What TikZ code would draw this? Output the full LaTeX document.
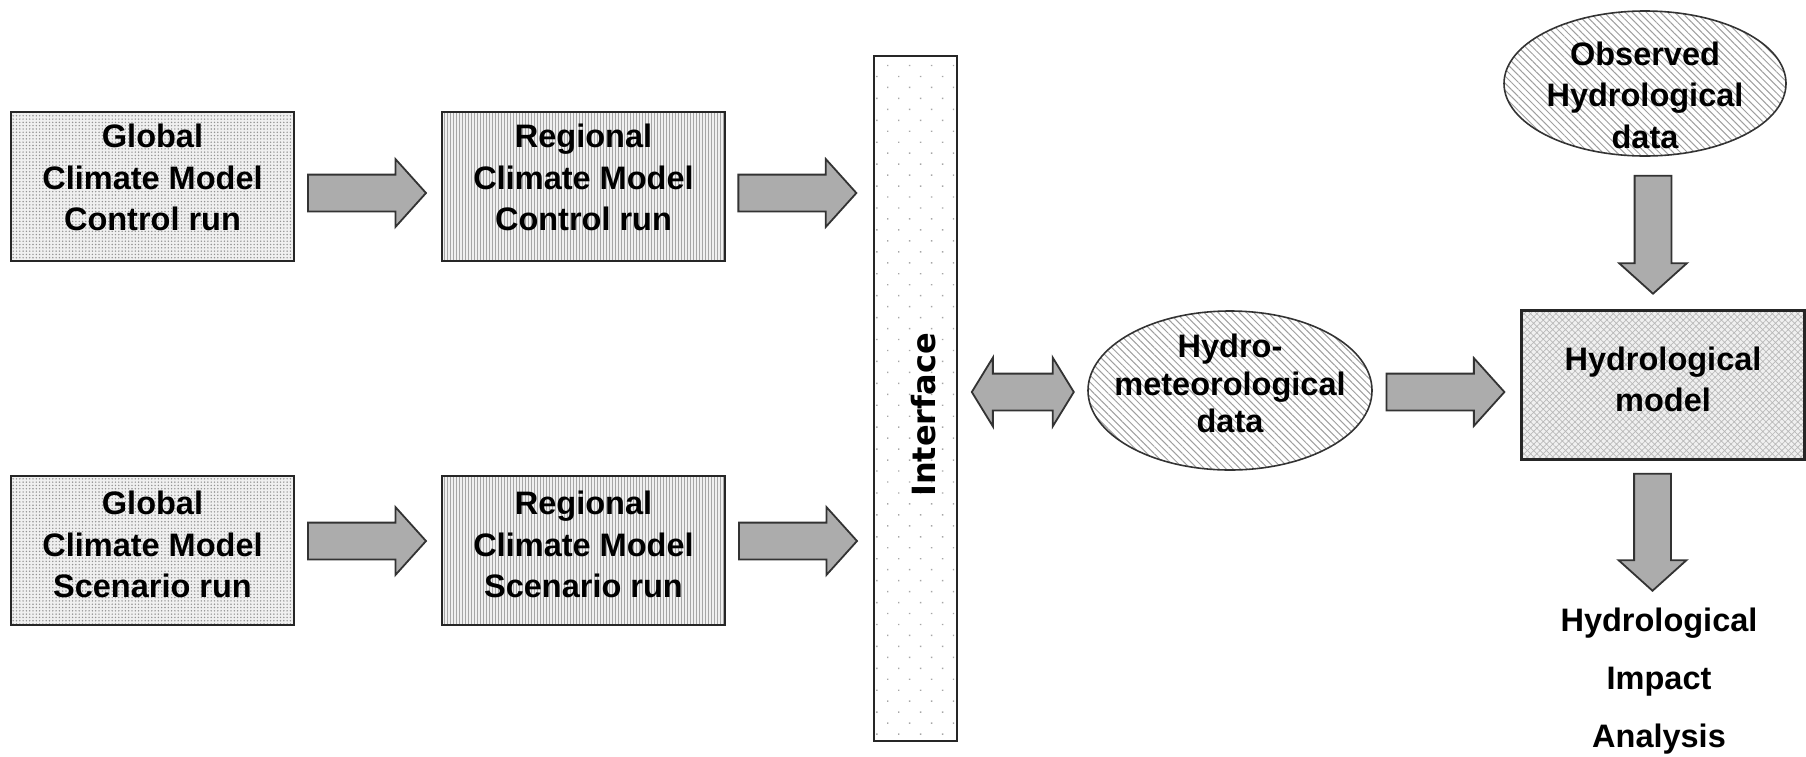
\documentclass[tikz,border=0pt]{standalone}
\usepackage{fontspec}
\setmainfont{Liberation Sans}
\newfontfamily\ifacefont{DejaVu Sans}
\usetikzlibrary{shapes.geometric,shapes.arrows,patterns.meta,calc}
\newcommand\flowfont{\fontsize{32.5}{41.5}\selectfont\bfseries}
\tikzset{
  gcmbox/.style={draw=black!85, line width=2.2pt, minimum width=283pt, minimum height=149pt,
    align=center, font=\flowfont, preaction={fill=gray!12},
    pattern={Dots[distance=3.3pt,radius=0.8pt]}, pattern color=gray!85},
  rcmbox/.style={gcmbox, pattern={Lines[angle=90,distance=3pt,line width=0.9pt]}, pattern color=gray!70},
  modbox/.style={gcmbox, pattern={Hatch[angle=45,distance=4.5pt,line width=0.7pt]}, pattern color=gray!55},
  ifacebox/.style={draw=black!85, line width=2.2pt, minimum width=83pt, minimum height=685pt,
    pattern={Dots[distance=15.5pt,angle=45,radius=1pt]}, pattern color=gray!70},
  datael/.style={ellipse, draw=black!80, line width=1.6pt, inner sep=0pt,
    pattern={Lines[angle=-45,distance=5pt,line width=1pt]}, pattern color=gray!75},
  fatarrow/.style={single arrow, draw=black!80, line width=1.8pt, fill=gray!65, inner sep=17.5pt,
    minimum height=118pt, single arrow head extend=15.5pt, single arrow tip angle=96, anchor=tail},
  dblarrow/.style={double arrow, draw=black!80, line width=1.8pt, fill=gray!65, inner sep=17.5pt,
    minimum height=102pt, double arrow head extend=16pt, double arrow tip angle=117}
}
\begin{document}
\begin{tikzpicture}[x=1pt,y=-1pt]
% \clip (0,0) rectangle (1806,756);
\useasboundingbox (0,0) rectangle (1806,756);

% Drawing global model boxes
\node [gcmbox, text depth=18pt] (gcc) at (152.5,186.5) {Global\\Climate Model\\Control run};
\node [gcmbox, text depth=12pt] (gcs) at (152.5,550.5) {Global\\Climate Model\\Scenario run};

% Drawing regional model boxes
\node [rcmbox, text depth=18pt] (rcc) at (583.5,186.5) {Regional\\Climate Model\\Control run};
\node [rcmbox, text depth=12pt] (rcs) at (583.5,550.5) {Regional\\Climate Model\\Scenario run};

% Drawing interface
\node [ifacebox] (iface) at (915.5,398.5) {};
\node [rotate=90, font=\ifacefont\fontsize{32}{40}\selectfont\bfseries] (ifacetext) at (923.5,415) {Interface};

% Drawing data ellipses
\node [datael, minimum width=284pt, minimum height=159pt,
  label={[font=\fontsize{32.5}{37.5}\selectfont\bfseries, align=center, yshift=7pt]center:Hydro-\\meteorological\\data}] (hmd) at (1230,390.5) {};
\node [datael, minimum width=282pt, minimum height=145pt,
  label={[font=\flowfont, align=center, yshift=-11.5pt]center:Observed\\Hydrological\\data}] (ohd) at (1645,83.5) {};

% Drawing hydrological model box
\node [modbox, text depth=12pt] (hmod) at (1663,385) {Hydrological\\model};

% Marking impact analysis
\node [font=\fontsize{32.5}{58}\selectfont\bfseries, align=center] (impact) at (1659,681) {Hydrological\\Impact\\Analysis};

% Drawing block arrows
\node [fatarrow] (a1) at ($(gcc.east)+(12,6.5)$) {};
\node [fatarrow] (a2) at ($(rcc.east)+(12,6.5)$) {};
\node [fatarrow] (a3) at ($(gcs.east)+(12,-9.5)$) {};
\node [fatarrow] (a4) at ($(rcs.east)+(12,-9.5)$) {};
\node [dblarrow] (a5) at ($(iface.east|-hmd.west)!0.5!(hmd.west)+(0,1.5)$) {};
\node [fatarrow] (a6) at ($(hmd.east)+(13,1.5)$) {};
\node [fatarrow, shape border rotate=270] (a7) at ($(ohd.south)+(8,18)$) {};
\node [fatarrow, minimum height=117pt, shape border rotate=270] (a8) at ($(hmod.south)+(-10.5,13)$) {};
\end{tikzpicture}
\end{document}
